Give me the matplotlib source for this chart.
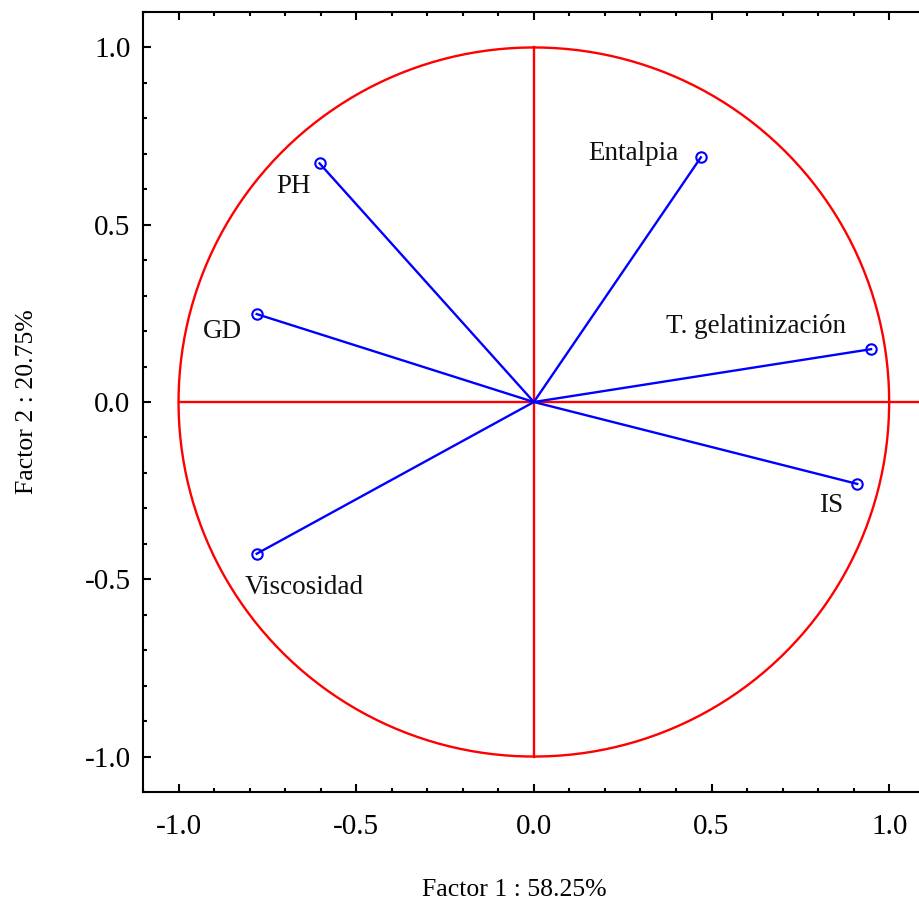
import numpy as np
import matplotlib.pyplot as plt
from matplotlib.ticker import MultipleLocator

variables = ["PH", "Entalpia", "GD", "T. gelatinización", "IS", "Viscosidad"]
factor1 = [-0.603, 0.470, -0.780, 0.949, 0.910, -0.780]
factor2 = [0.673, 0.690, 0.248, 0.149, -0.231, -0.428]
# label anchor positions (centers), in data units
label_x = [-0.676, 0.279, -0.876, 0.625, 0.837, -0.645]
label_y = [0.608, 0.701, 0.200, 0.214, -0.293, -0.524]

plt.rcParams['font.family'] = ['Liberation Serif', 'DejaVu Serif']

fig = plt.figure(figsize=(9.19, 9.09), dpi=100)
ax = fig.add_axes([143 / 919, 1 - 792 / 909, 781.7 / 919, 780 / 909])

# unit circle and axes
t = np.linspace(0, 2 * np.pi, 400)
ax.plot(np.cos(t), np.sin(t), color='red', lw=1.7)
ax.plot([-1.0, 1.1], [0, 0], color='red', lw=1.7)
ax.plot([0, 0], [-1.0, 1.0], color='red', lw=1.7)

for x, y in zip(factor1, factor2):
    ax.plot([0, x], [0, y], color='blue', lw=1.7)
ax.plot(factor1, factor2, 'o', color='blue', mfc='none', ms=7.5, mew=1.5)

for name, lx, ly in zip(variables, label_x, label_y):
    ax.text(lx, ly, name, fontsize=19.5, ha='center', va='center', color='#111111')

ax.set_xlim(-1.1, 1.1)
ax.set_ylim(-1.1, 1.1)
ax.xaxis.set_major_locator(MultipleLocator(0.5))
ax.yaxis.set_major_locator(MultipleLocator(0.5))
ax.xaxis.set_minor_locator(MultipleLocator(0.1))
ax.yaxis.set_minor_locator(MultipleLocator(0.1))
ax.xaxis.set_major_formatter(plt.FuncFormatter(lambda v, p: f"{v:.1f}"))
ax.yaxis.set_major_formatter(plt.FuncFormatter(lambda v, p: f"{v:.1f}"))
ax.tick_params(which='both', direction='in', top=True, right=False, width=1.5)
ax.tick_params(which='major', length=6, labelsize=21)
ax.tick_params(which='minor', length=3)
ax.tick_params(axis='x', which='major', pad=16)
ax.tick_params(axis='y', which='major', pad=9)
for s in ['left', 'bottom', 'top']:
    ax.spines[s].set_linewidth(1.5)
ax.spines['right'].set_visible(False)

fig.text(514 / 919, 1 - 890 / 909, "Factor 1 : 58.25%", fontsize=18.5,
         ha='center', va='center')
fig.text(27 / 919, 1 - 402 / 909, "Factor 2 : 20.75%", fontsize=18.5,
         ha='center', va='center', rotation=90)

fig.savefig("out.png", dpi=100)
